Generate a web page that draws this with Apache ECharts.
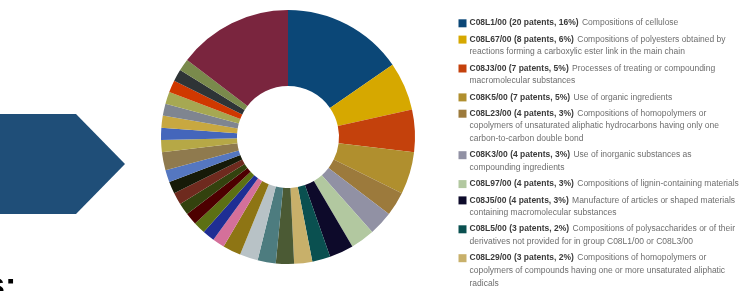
<!DOCTYPE html>
<html>
<head>
<meta charset="utf-8">
<script src="https://cdn.jsdelivr.net/npm/echarts@6/dist/echarts.min.js"></script>
<style>
  html, body { margin: 0; padding: 0; background: #fff; }
  #chart { width: 749px; height: 291px; }
</style>
</head>
<body>
<div id="chart"></div>
<script>
// slice names, clockwise from 12 o'clock (only the first ten are named in the legend)
var codes = ['C08L1/00', 'C08L67/00', 'C08J3/00', 'C08K5/00', 'C08L23/00',
  'C08K3/00', 'C08L97/00', 'C08J5/00', 'C08L5/00', 'C08L29/00',
  'Group 11', 'Group 12', 'Group 13', 'Group 14', 'Group 15', 'Group 16',
  'Group 17', 'Group 18', 'Group 19', 'Group 20', 'Group 21', 'Group 22',
  'Group 23', 'Group 24', 'Group 25', 'Group 26', 'Group 27', 'Group 28',
  'Group 29', 'Group 30', 'Group 31', 'Others']
var patents = [20, 8, 7, 7, 4, 4, 4, 4, 3, 3,
  3, 3, 3, 3, 2, 2, 2, 2, 2, 2, 2, 2, 3, 2, 2, 2, 2, 2, 2, 2, 2,
  19]
var shares = ['16%', '6%', '5%', '5%', '3%', '3%', '3%', '3%', '2%', '2%']
var descriptions = [
  'Compositions of cellulose',
  'Compositions of polyesters obtained by\nreactions forming a carboxylic ester link in the main chain',
  'Processes of treating or compounding\nmacromolecular substances',
  'Use of organic ingredients',
  'Compositions of homopolymers or\ncopolymers of unsaturated aliphatic hydrocarbons having only one\ncarbon-to-carbon double bond',
  'Use of inorganic substances as\ncompounding ingredients',
  'Compositions of lignin-containing materials',
  'Manufacture of articles or shaped materials\ncontaining macromolecular substances',
  'Compositions of polysaccharides or of their\nderivatives not provided for in group C08L1/00 or C08L3/00',
  'Compositions of homopolymers or\ncopolymers of compounds having one or more unsaturated aliphatic\nradicals'
]
var colors = ['#0b4777', '#d6a800', '#c4410c', '#b08f2e', '#9c7a3c',
  '#9191a4', '#b2c8a0', '#0d0a2a', '#0a5050', '#c8b06a',
  '#4b5a34', '#4d7c7f', '#b8c2c6', '#8e7514', '#d4709a', '#1f2e94',
  '#5c7014', '#4d0000', '#33420e', '#6e2a1e', '#161a08', '#5577c0',
  '#8f7a4e', '#b6a846', '#4466bb', '#c8a840', '#7f8590', '#a6a852',
  '#d03800', '#2e3436', '#7a8a4c', '#7a253e']

var chart = echarts.init(document.getElementById('chart'))

// legend drawn by hand so the square sits on the first line of each entry
var legendItems = []
var y = 16.8
for (var i = 0; i < descriptions.length; i++) {
  var lines = descriptions[i].split('\n')
  var txt = '{b|' + codes[i] + ' (' + patents[i] + ' patents, ' + shares[i] + ')} {n|' + lines[0] + '}'
  for (var j = 1; j < lines.length; j++) {
    txt += '\n{n|' + lines[j] + '}'
  }
  legendItems.push({
    type: 'rect',
    shape: { x: 458.5, y: y + 2.5, width: 8, height: 8 },
    style: { fill: colors[i] }
  })
  legendItems.push({
    type: 'text',
    x: 469.5,
    y: y,
    style: {
      text: txt,
      verticalAlign: 'top',
      rich: {
        b: { fontFamily: 'Liberation Sans, Arial, sans-serif', fontSize: 8.5, fontWeight: 'bold', fill: '#3a3a3a', lineHeight: 12.6 },
        n: { fontFamily: 'Liberation Sans, Arial, sans-serif', fontSize: 8.5, fill: '#6e6e6e', lineHeight: 12.6 }
      }
    }
  })
  y += lines.length * 12.6 + 3.7
}

chart.setOption({
  animation: false,
  graphic: [
    {
      type: 'polygon',
      shape: { points: [[0, 114], [76, 114], [125, 164], [76, 214], [0, 214]] },
      style: { fill: '#1f4e78' }
    },
    {
      type: 'text',
      x: -14,
      y: 270,
      style: { text: 's:', font: 'bold 34px Liberation Sans, Arial, sans-serif', fill: '#000' }
    }
  ].concat(legendItems),
  series: [
    {
      type: 'pie',
      center: [288, 137],
      radius: [51, 127],
      startAngle: 90,
      clockwise: true,
      silent: true,
      avoidLabelOverlap: false,
      label: { show: false },
      labelLine: { show: false },
      itemStyle: { borderWidth: 0 },
      data: codes.map(function(name, k) {
        return { name: name, value: patents[k], itemStyle: { color: colors[k] } }
      })
    }
  ]
})
</script>
</body>
</html>
